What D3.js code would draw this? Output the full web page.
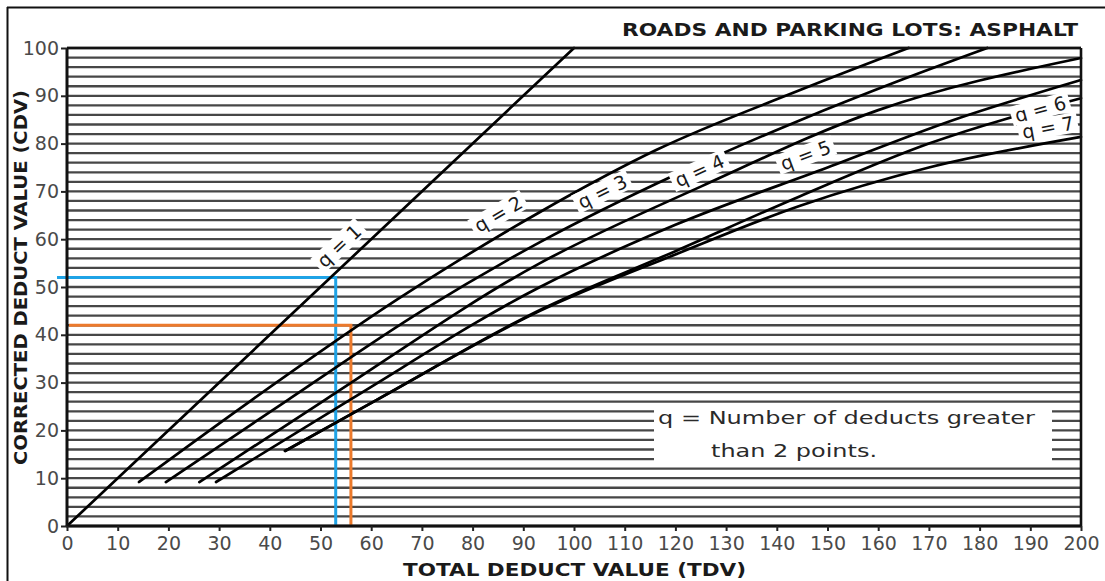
<!DOCTYPE html>
<html>
<head>
<meta charset="utf-8">
<script src="https://cdn.jsdelivr.net/npm/d3@7/dist/d3.min.js"></script>
<style>
  html, body { margin: 0; padding: 0; background: #fff; }
  svg { display: block; }
</style>
</head>
<body>
<svg id="chart" width="1105" height="581"></svg>
<script>
// Corrected deduct value curves, roads and parking lots (asphalt)
const title = "ROADS AND PARKING LOTS: ASPHALT";
const xLabel = "TOTAL DEDUCT VALUE (TDV)";
const yLabel = "CORRECTED DEDUCT VALUE (CDV)";
const legendLines = ["q = Number of deducts greater", "than 2 points."];

const xTicks = [0, 10, 20, 30, 40, 50, 60, 70, 80, 90, 100, 110, 120, 130, 140, 150, 160, 170, 180, 190, 200];
const yTicks = [0, 10, 20, 30, 40, 50, 60, 70, 80, 90, 100];
const gridValues = d3.range(0, 101, 2);

// [TDV, CDV] points for each curve q
const q1 = [[0, 0], [100, 100]];
const q2 = [[14.2, 9.2], [36.5, 26.4], [65, 47.3], [93.3, 65.7], [116.3, 78.7], [144.6, 91.2], [166, 100]];
const q3 = [[19.5, 9.2], [43.6, 26.4], [70, 45], [93.3, 59.4], [120, 73.5], [144.6, 84.9], [165, 93.5], [181.5, 100]];
const q4 = [[26.1, 9.2], [50.9, 26.4], [93.3, 55], [125, 71], [160, 87], [200, 97.9]];
const q5 = [[29.4, 9.2], [55.8, 26.4], [93.3, 50], [120, 63], [150, 75], [175, 85], [200, 93.3]];
const q6 = [[43, 15.7], [61.1, 26.4], [93.3, 45.2], [120, 57.5], [144.6, 69], [170, 80], [200, 89.5]];
const q7 = [[43, 15.7], [61.1, 26.4], [93.3, 45], [120, 56.8], [144.6, 67], [170, 75], [200, 81.4]];
const curveNames = ["q = 1", "q = 2", "q = 3", "q = 4", "q = 5", "q = 6", "q = 7"];
const curveData = [q1, q2, q3, q4, q5, q6, q7];
// where each curve's name sits (TDV along the curve) and its offset from the curve in px
const labelAt = [56, 87, 107, 126, 147, 192, 194];
const labelOffset = [17, 19, 16, 15, 19, 0, 15];

// worked examples: [TDV, CDV]
const blueExample = [53, 52];
const orangeExample = [56, 42];

const svg = d3.select("#chart");
const W = 1105, H = 581;
const x = d3.scaleLinear().domain([0, 200]).range([67, 1081]);
const y = d3.scaleLinear().domain([0, 100]).range([526, 48]);
const FONT = "DejaVu Sans, Verdana, sans-serif";

// outer frame (left and top edges)
svg.append("line").attr("x1", 7.5).attr("x2", 7.5).attr("y1", 7).attr("y2", H)
  .attr("stroke", "#111").attr("stroke-width", 2);
svg.append("line").attr("x1", 7).attr("x2", W).attr("y1", 7.5).attr("y2", 7.5)
  .attr("stroke", "#111").attr("stroke-width", 2);

// horizontal rulings every 2 units
svg.append("g").selectAll("line").data(gridValues).join("line")
  .attr("x1", x(0)).attr("x2", x(200))
  .attr("y1", d => y(d)).attr("y2", d => y(d))
  .attr("stroke", "#474747").attr("stroke-width", 2.3);

// legend box
const legendG = svg.append("g");
legendG.append("rect").attr("x", 654).attr("y", 406).attr("width", 398).attr("height", 59).attr("fill", "#fff");
legendG.append("text").attr("x", 658).attr("y", 424)
  .attr("font-family", FONT).attr("font-size", 18).attr("fill", "#2a2a2a")
  .attr("textLength", 377).attr("lengthAdjust", "spacingAndGlyphs")
  .text(legendLines[0]);
legendG.append("text").attr("x", 711).attr("y", 457)
  .attr("font-family", FONT).attr("font-size", 18).attr("fill", "#2a2a2a")
  .attr("textLength", 166).attr("lengthAdjust", "spacingAndGlyphs")
  .text(legendLines[1]);

// worked examples
function example(pt, color, startX) {
  svg.append("path")
    .attr("d", `M${startX},${y(pt[1])}H${x(pt[0])}V${y(0)}`)
    .attr("fill", "none").attr("stroke", color).attr("stroke-width", 3);
}
example(blueExample, "#1fa3e6", x(0) - 10);
example(orangeExample, "#ec7a2c", x(0) + 2);

// curves
const line = d3.line().x(d => x(d[0])).y(d => y(d[1])).curve(d3.curveMonotoneX);
const paths = svg.append("g").selectAll("path").data(curveData).join("path")
  .attr("d", line)
  .attr("fill", "none").attr("stroke", "#000").attr("stroke-width", 2.7)
  .attr("stroke-linecap", "round");

// curve names, rotated along each curve
function pointAtX(node, tx) {
  const len = node.getTotalLength();
  let lo = 0, hi = len;
  for (let i = 0; i < 40; i++) {
    const mid = (lo + hi) / 2;
    if (node.getPointAtLength(mid).x < tx) lo = mid; else hi = mid;
  }
  const p = node.getPointAtLength(lo);
  const p2 = node.getPointAtLength(Math.min(len, lo + 4));
  const p1 = node.getPointAtLength(Math.max(0, lo - 4));
  return { x: p.x, y: p.y, angle: Math.atan2(p2.y - p1.y, p2.x - p1.x) };
}
paths.each(function (d, i) {
  const p = pointAtX(this, x(labelAt[i]));
  const nx = Math.sin(p.angle), ny = -Math.cos(p.angle);
  const cx = p.x + nx * labelOffset[i], cy = p.y + ny * labelOffset[i];
  const g = svg.append("g")
    .attr("transform", `translate(${cx},${cy}) rotate(${p.angle * 180 / Math.PI})`);
  const t = g.append("text").attr("text-anchor", "middle").attr("dy", "0.35em")
    .attr("font-family", FONT).attr("font-size", 19)
    .attr("fill", "#1a1a1a").text(curveNames[i]);
  const bb = t.node().getBBox();
  g.insert("rect", "text").attr("x", bb.x - 4).attr("y", bb.y + 1)
    .attr("width", bb.width + 8).attr("height", bb.height - 2).attr("fill", "#fff");
});

// plot border
svg.append("line").attr("x1", x(0)).attr("x2", x(200)).attr("y1", y(100)).attr("y2", y(100))
  .attr("stroke", "#111").attr("stroke-width", 2.6);
svg.append("line").attr("x1", x(200)).attr("x2", x(200)).attr("y1", y(100)).attr("y2", y(0))
  .attr("stroke", "#111").attr("stroke-width", 2.6);

// axes
const xAxis = svg.append("g").attr("transform", `translate(0,${y(0)})`)
  .call(d3.axisBottom(x).tickValues(xTicks).tickSize(5).tickPadding(6).tickFormat(d3.format("d")));
const yAxis = svg.append("g").attr("transform", `translate(${x(0)},0)`)
  .call(d3.axisLeft(y).tickValues(yTicks).tickSize(6).tickPadding(2).tickFormat(d3.format("d")));
[xAxis, yAxis].forEach(a => {
  a.select(".domain").attr("stroke", "#111").attr("stroke-width", 3);
  a.selectAll(".tick line").attr("stroke", "#222").attr("stroke-width", 2);
  a.selectAll(".tick text").attr("font-family", FONT).attr("font-size", 19).attr("fill", "#4a4a4a");
});
xAxis.select(".domain").attr("d", `M${x(0)},0H${x(200)}`);
yAxis.select(".domain").attr("d", `M0,${y(0)}V${y(100)}`);

// titles
svg.append("text").attr("x", 622).attr("y", 36)
  .attr("font-family", FONT).attr("font-weight", "bold").attr("font-size", 18)
  .attr("fill", "#1a1a1a").attr("textLength", 456).attr("lengthAdjust", "spacingAndGlyphs").text(title);
svg.append("text").attr("x", 403).attr("y", 576)
  .attr("font-family", FONT).attr("font-weight", "bold").attr("font-size", 18)
  .attr("fill", "#1a1a1a").attr("textLength", 343).attr("lengthAdjust", "spacingAndGlyphs").text(xLabel);
svg.append("text").attr("transform", "translate(27,465) rotate(-90)")
  .attr("font-family", FONT).attr("font-weight", "bold").attr("font-size", 18)
  .attr("fill", "#1a1a1a").attr("textLength", 375).attr("lengthAdjust", "spacingAndGlyphs").text(yLabel);
</script>
</body>
</html>
